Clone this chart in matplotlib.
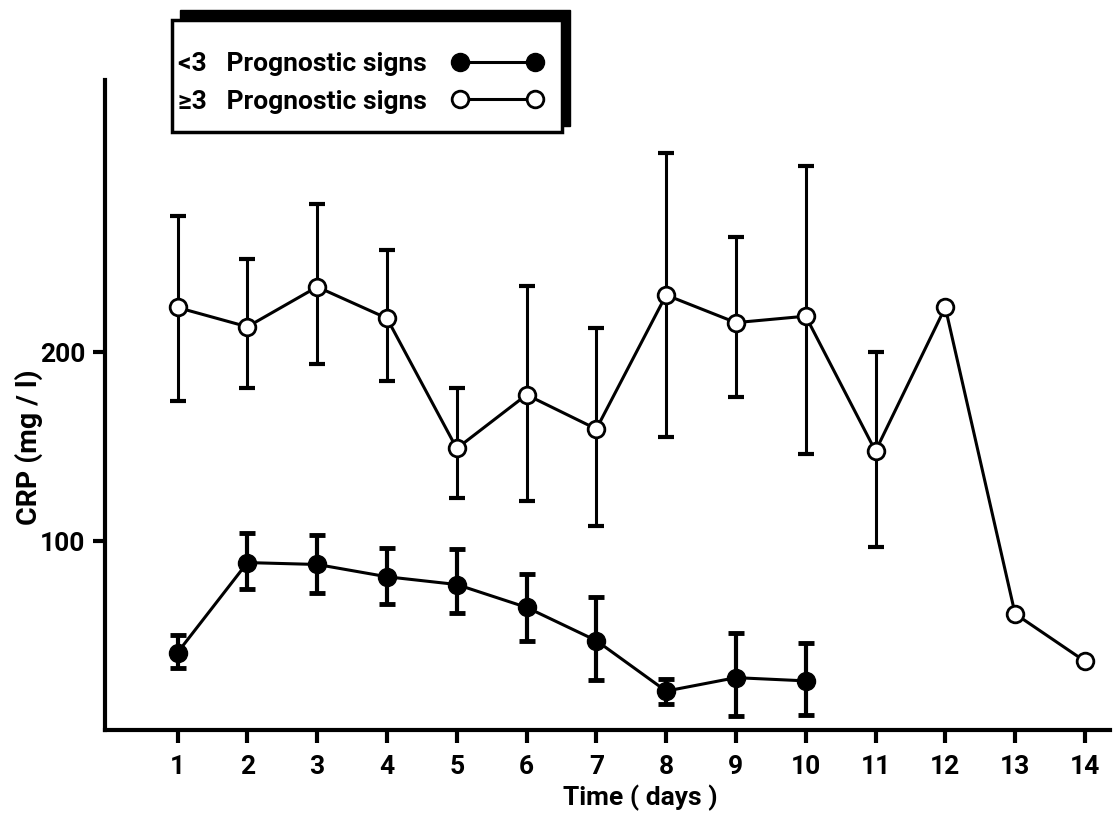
import matplotlib
matplotlib.use("Agg")
import matplotlib.pyplot as plt
from matplotlib.patches import Rectangle
import numpy as np

plt.rcParams['font.family'] = ['Roboto', 'DejaVu Sans']

# ---------------- data ----------------
days = [1, 2, 3, 4, 5, 6, 7, 8, 9, 10, 11, 12, 13, 14]
open_mean = [223.6, 213.4, 234.5, 217.9, 149.0, 177.4, 159.3, 230.2, 215.6, 219.0, 147.6, 223.7, 61.5, 36.4]
open_err_days = [1, 2, 3, 4, 5, 6, 7, 8, 9, 10, 11]
open_upper = [272.2, 249.3, 278.3, 253.8, 180.8, 235.1, 213.0, 305.5, 260.9, 298.4, 200.2]
open_lower = [174.3, 180.8, 193.6, 184.9, 122.6, 121.2, 108.0, 155.2, 176.1, 146.1, 96.9]

closed_days = [1, 2, 3, 4, 5, 6, 7, 8, 9, 10]
closed_mean = [41.0, 88.6, 87.6, 81.1, 77.0, 64.9, 47.3, 20.6, 27.7, 26.0]
closed_upper = [50.3, 104.4, 103.4, 96.3, 95.7, 82.5, 70.2, 27.1, 51.6, 45.9]
closed_lower = [32.8, 74.6, 72.3, 66.9, 61.8, 47.2, 26.2, 13.5, 7.4, 7.8]

xticks = list(range(1, 15))
yticks = [100, 200]
label_lt = "<3   Prognostic signs"
label_ge = "\u22653   Prognostic signs"

# ---------------- figure ----------------
W, H = 1114, 813
fig = plt.figure(figsize=(W / 100, H / 100), dpi=100)
ax = fig.add_axes([105 / W, 1 - 730 / H, (1110 - 105) / W, (730 - 80) / H])

FS = 19
FW = 'bold'
LW = 2.2

# error bars
om = np.array(open_mean[:len(open_err_days)])
ax.errorbar(open_err_days, om,
            yerr=[om - np.array(open_lower), np.array(open_upper) - om],
            fmt='none', ecolor='black', elinewidth=2.2, capsize=6, capthick=3, zorder=2)
cm = np.array(closed_mean)
ax.errorbar(closed_days, cm,
            yerr=[cm - np.array(closed_lower), np.array(closed_upper) - cm],
            fmt='none', ecolor='black', elinewidth=3, capsize=6, capthick=3.5, zorder=2)

# lines + markers
h_closed, = ax.plot(closed_days, closed_mean, '-', color='black', lw=LW,
                    marker='o', ms=13, mfc='black', mec='black', zorder=3, label=label_lt)
h_open, = ax.plot(days, open_mean, '-', color='black', lw=LW,
                  marker='o', ms=12, mfc='white', mec='black', mew=2, zorder=3, label=label_ge)

ax.set_xlim(-0.04, 14.36)
ax.set_ylim(0, 344)
ax.set_xticks(xticks)
ax.set_xticklabels([str(t) for t in xticks], fontsize=FS, fontweight=FW)
ax.set_yticks(yticks)
ax.set_yticklabels([str(t) for t in yticks], fontsize=FS, fontweight=FW)
ax.tick_params(axis='x', direction='out', length=9, width=3, pad=9)
ax.tick_params(axis='y', direction='out', length=9, width=3, pad=5)

for s in ['top', 'right']:
    ax.spines[s].set_visible(False)
for s in ['left', 'bottom']:
    ax.spines[s].set_linewidth(3)

ax.set_xlabel("Time ( days )", fontsize=FS, fontweight=FW, va='top')
ax.xaxis.set_label_coords((640 - 105) / 1005, (730 - 785) / 650)
ax.set_ylabel("CRP (mg / l)", fontsize=20.5, fontweight=FW)
ax.yaxis.set_label_coords((43 - 105) / 1005, (730 - 447) / 650)

# legend (frame drawn separately with an offset shadow, as in the reference)
leg = fig.legend(handles=[h_closed, h_open], loc='upper left',
                 bbox_to_anchor=(178 / W, 1 - 52 / H), bbox_transform=fig.transFigure,
                 borderaxespad=0, borderpad=0, markerfirst=False, numpoints=2,
                 handlelength=3.45, handletextpad=0.95, frameon=False,
                 prop={'size': FS, 'weight': FW}, labelspacing=0.52)
leg.set_zorder(6)

# shadow and frame in figure pixels (top-left origin converted)
def px_rect(x0, y0, x1, y1, **kw):
    return Rectangle((x0, H - y1), x1 - x0, y1 - y0, transform=None, **kw)

fig.patches.append(px_rect(180, 10, 570, 126, facecolor='black', edgecolor='black', zorder=4))
fig.patches.append(px_rect(172, 20, 562, 132, facecolor='white', edgecolor='black',
                           linewidth=2.5, zorder=5))

fig.savefig("out.png", dpi=100)
